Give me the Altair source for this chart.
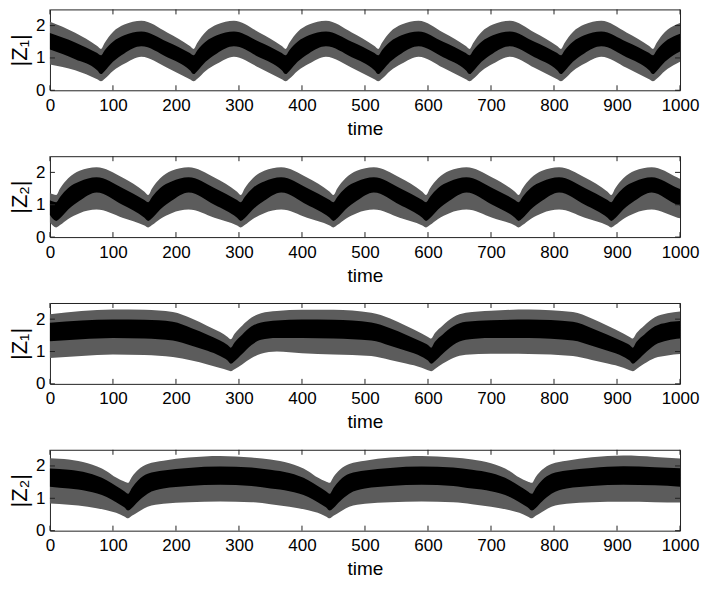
import altair as alt
import pandas as pd

# ---------------- data (envelope of the fast oscillation) ----------------
X_TICKS = [0, 100, 200, 300, 400, 500, 600, 700, 800, 900, 1000]
Y_TICKS = [0, 1, 2]
TITLES = ["|Z₁|", "|Z₂|", "|Z₁|", "|Z₂|"]

# panel 1 : |Z1|
p1_t = [0, 40, 75, 81, 87, 100, 118, 145, 186, 222, 228, 234, 247, 265, 292, 332, 368, 374, 380, 393, 411, 438,
        479, 515, 521, 527, 540, 558, 585, 624, 660, 666, 672, 685, 703, 730, 769, 805, 811, 817, 830, 848, 875,
        915, 951, 957, 963, 976, 994, 1000]
p1_up = [2.12, 1.78, 1.37, 1.28, 1.47, 1.80, 2.03, 2.15, 1.79, 1.37, 1.28, 1.47, 1.80, 2.03, 2.15, 1.79, 1.37, 1.28,
         1.47, 1.80, 2.03, 2.15, 1.79, 1.37, 1.28, 1.47, 1.80, 2.03, 2.15, 1.79, 1.37, 1.28, 1.47, 1.80, 2.03, 2.15,
         1.79, 1.37, 1.28, 1.47, 1.80, 2.03, 2.15, 1.79, 1.37, 1.28, 1.47, 1.80, 2.03, 2.08]
p1_lo = [0.80, 0.62, 0.34, 0.28, 0.36, 0.60, 0.82, 1.04, 0.70, 0.34, 0.28, 0.36, 0.60, 0.82, 1.04, 0.70, 0.34, 0.28,
         0.36, 0.60, 0.82, 1.04, 0.70, 0.34, 0.28, 0.36, 0.60, 0.82, 1.04, 0.70, 0.34, 0.28, 0.36, 0.60, 0.82, 1.04,
         0.70, 0.34, 0.28, 0.36, 0.60, 0.82, 1.04, 0.70, 0.34, 0.28, 0.36, 0.60, 0.82, 0.88]
p1_ch = [1.77, 1.48, 1.15, 1.08, 1.24, 1.50, 1.70, 1.82, 1.50, 1.15, 1.08, 1.24, 1.50, 1.70, 1.82, 1.50, 1.15, 1.08,
         1.24, 1.50, 1.70, 1.82, 1.50, 1.15, 1.08, 1.24, 1.50, 1.70, 1.82, 1.50, 1.15, 1.08, 1.24, 1.50, 1.70, 1.82,
         1.50, 1.15, 1.08, 1.24, 1.50, 1.70, 1.82, 1.50, 1.15, 1.08, 1.24, 1.50, 1.70, 1.75]
p1_cl = [1.26, 0.96, 0.62, 0.50, 0.60, 0.88, 1.14, 1.36, 1.02, 0.62, 0.50, 0.60, 0.88, 1.14, 1.36, 1.02, 0.62, 0.50,
         0.60, 0.88, 1.14, 1.36, 1.02, 0.62, 0.50, 0.60, 0.88, 1.14, 1.36, 1.02, 0.62, 0.50, 0.60, 0.88, 1.14, 1.36,
         1.02, 0.62, 0.50, 0.60, 0.88, 1.14, 1.36, 1.02, 0.62, 0.50, 0.60, 0.88, 1.14, 1.20]

# panel 2 : |Z2|
p2_t = [0, 10, 16, 29, 47, 74, 115, 150, 156, 162, 175, 193, 220, 261, 297, 303, 309, 322, 340, 367, 408, 444, 450,
        456, 469, 487, 514, 555, 591, 597, 603, 616, 634, 661, 702, 738, 744, 750, 763, 781, 808, 849, 885, 891, 897,
        910, 928, 955, 996, 1000]
p2_up = [1.36, 1.30, 1.50, 1.82, 2.05, 2.16, 1.84, 1.40, 1.30, 1.50, 1.82, 2.05, 2.16, 1.84, 1.40, 1.30, 1.50, 1.82,
         2.05, 2.16, 1.84, 1.40, 1.30, 1.50, 1.82, 2.05, 2.16, 1.84, 1.40, 1.30, 1.50, 1.82, 2.05, 2.16, 1.84, 1.40,
         1.30, 1.50, 1.82, 2.05, 2.16, 1.84, 1.40, 1.30, 1.50, 1.82, 2.05, 2.16, 1.84, 1.80]
p2_lo = [0.45, 0.30, 0.37, 0.56, 0.74, 0.85, 0.60, 0.36, 0.30, 0.37, 0.56, 0.74, 0.85, 0.60, 0.36, 0.30, 0.37, 0.56,
         0.74, 0.85, 0.60, 0.36, 0.30, 0.37, 0.56, 0.74, 0.85, 0.60, 0.36, 0.30, 0.37, 0.56, 0.74, 0.85, 0.60, 0.36,
         0.30, 0.37, 0.56, 0.74, 0.85, 0.60, 0.36, 0.30, 0.37, 0.56, 0.74, 0.85, 0.60, 0.58]
p2_ch = [1.14, 1.08, 1.24, 1.52, 1.72, 1.85, 1.52, 1.15, 1.08, 1.24, 1.52, 1.72, 1.85, 1.52, 1.15, 1.08, 1.24, 1.52,
         1.72, 1.85, 1.52, 1.15, 1.08, 1.24, 1.52, 1.72, 1.85, 1.52, 1.15, 1.08, 1.24, 1.52, 1.72, 1.85, 1.52, 1.15,
         1.08, 1.24, 1.52, 1.72, 1.85, 1.52, 1.15, 1.08, 1.24, 1.52, 1.72, 1.85, 1.52, 1.49]
p2_cl = [0.68, 0.50, 0.58, 0.85, 1.12, 1.38, 1.00, 0.60, 0.50, 0.58, 0.85, 1.12, 1.38, 1.00, 0.60, 0.50, 0.58, 0.85,
         1.12, 1.38, 1.00, 0.60, 0.50, 0.58, 0.85, 1.12, 1.38, 1.00, 0.60, 0.50, 0.58, 0.85, 1.12, 1.38, 1.00, 0.60,
         0.50, 0.58, 0.85, 1.12, 1.38, 1.00, 0.60, 0.50, 0.58, 0.85, 1.12, 1.38, 1.00, 0.98]

# panel 3 : |Z1|
p3_t = [0, 50, 100, 150, 195, 225, 250, 270, 282, 287, 293, 305, 320, 335, 360, 400, 450, 510, 540, 565, 590, 600,
        605, 611, 623, 640, 660, 700, 760, 830, 860, 885, 910, 920, 925, 931, 943, 960, 980, 1000]
p3_up = [2.15, 2.25, 2.30, 2.29, 2.22, 2.02, 1.79, 1.60, 1.45, 1.38, 1.55, 1.80, 2.05, 2.18, 2.25, 2.29, 2.29, 2.20,
         2.02, 1.80, 1.56, 1.45, 1.40, 1.57, 1.80, 2.06, 2.20, 2.26, 2.30, 2.22, 2.02, 1.80, 1.56, 1.45, 1.40, 1.57,
         1.80, 2.06, 2.18, 2.24]
p3_lo = [0.80, 0.86, 0.91, 0.89, 0.83, 0.72, 0.60, 0.49, 0.42, 0.39, 0.45, 0.60, 0.80, 0.93, 1.00, 0.95, 0.91, 0.86,
         0.74, 0.63, 0.50, 0.42, 0.39, 0.46, 0.62, 0.80, 0.90, 0.93, 0.92, 0.86, 0.74, 0.63, 0.50, 0.42, 0.39, 0.46,
         0.62, 0.80, 0.88, 0.92]
p3_ch = [1.89, 1.96, 1.99, 1.98, 1.92, 1.72, 1.52, 1.34, 1.20, 1.12, 1.28, 1.52, 1.78, 1.90, 1.96, 1.99, 1.98, 1.90,
         1.72, 1.52, 1.30, 1.20, 1.12, 1.30, 1.52, 1.78, 1.92, 1.97, 1.99, 1.92, 1.72, 1.52, 1.30, 1.20, 1.12, 1.30,
         1.52, 1.78, 1.90, 1.94]
p3_cl = [1.32, 1.38, 1.42, 1.40, 1.34, 1.18, 1.02, 0.86, 0.72, 0.62, 0.70, 0.92, 1.20, 1.36, 1.42, 1.42, 1.40, 1.34,
         1.18, 1.02, 0.84, 0.72, 0.62, 0.70, 0.92, 1.20, 1.36, 1.42, 1.42, 1.34, 1.18, 1.02, 0.84, 0.72, 0.62, 0.70,
         0.92, 1.20, 1.34, 1.40]

# panel 4 : |Z2|
p4_t = [0, 30, 60, 90, 105, 118, 124, 130, 140, 155, 180, 220, 270, 320, 350, 380, 410, 425, 438, 444, 450, 460, 475,
        500, 540, 590, 640, 670, 700, 730, 745, 758, 765, 771, 781, 796, 820, 860, 910, 960, 1000]
p4_up = [2.24, 2.20, 2.08, 1.84, 1.64, 1.52, 1.48, 1.66, 1.88, 2.06, 2.16, 2.26, 2.31, 2.26, 2.20, 2.08, 1.84, 1.64,
         1.52, 1.48, 1.66, 1.88, 2.06, 2.16, 2.26, 2.31, 2.26, 2.20, 2.08, 1.84, 1.64, 1.52, 1.48, 1.66, 1.88, 2.06,
         2.16, 2.27, 2.32, 2.28, 2.23]
p4_lo = [0.84, 0.80, 0.74, 0.63, 0.55, 0.44, 0.38, 0.46, 0.58, 0.74, 0.83, 0.88, 0.90, 0.88, 0.82, 0.74, 0.63, 0.55,
         0.44, 0.38, 0.46, 0.58, 0.74, 0.83, 0.88, 0.90, 0.88, 0.82, 0.74, 0.63, 0.55, 0.44, 0.38, 0.46, 0.58, 0.74,
         0.83, 0.88, 0.89, 0.88, 0.87]
p4_ch = [1.92, 1.88, 1.78, 1.56, 1.38, 1.22, 1.14, 1.32, 1.56, 1.76, 1.86, 1.94, 1.98, 1.95, 1.88, 1.78, 1.56, 1.38,
         1.22, 1.14, 1.32, 1.56, 1.76, 1.86, 1.94, 1.98, 1.95, 1.88, 1.78, 1.56, 1.38, 1.22, 1.14, 1.32, 1.56, 1.76,
         1.86, 1.94, 1.99, 1.96, 1.93]
p4_cl = [1.36, 1.30, 1.22, 1.04, 0.88, 0.72, 0.62, 0.70, 0.90, 1.14, 1.30, 1.38, 1.42, 1.38, 1.30, 1.22, 1.04, 0.88,
         0.72, 0.62, 0.70, 0.90, 1.14, 1.30, 1.38, 1.42, 1.38, 1.30, 1.22, 1.04, 0.88, 0.72, 0.62, 0.70, 0.90, 1.14,
         1.30, 1.38, 1.42, 1.40, 1.36]

PANELS = [
    (p1_t, p1_up, p1_lo, p1_ch, p1_cl),
    (p2_t, p2_up, p2_lo, p2_ch, p2_cl),
    (p3_t, p3_up, p3_lo, p3_ch, p3_cl),
    (p4_t, p4_up, p4_lo, p4_ch, p4_cl),
]

# ---------------- chart ----------------
W, H = 631, 81
TICK = 5
FONT = "Liberation Sans"

xscale = alt.Scale(domain=[0, 1000], nice=False, zero=False)
yscale = alt.Scale(domain=[0, 2.5], nice=False, zero=True)

xt_df = pd.DataFrame({"v": X_TICKS})
yt_df = pd.DataFrame({"v": Y_TICKS})


def panel(data, title):
    t, up, lo, ch, cl = data
    df = pd.DataFrame({"t": t, "up": up, "lo": lo, "ch": ch, "cl": cl})
    xaxis = alt.Axis(values=X_TICKS, title="time", ticks=False, domain=False, grid=False,
                     labelFontSize=17, titleFontSize=19, labelPadding=7, titlePadding=6,
                     labelFont=FONT, titleFont=FONT, titleFontWeight="normal", labelFlush=False,
                     labelColor="black", titleColor="black", format="d")
    yaxis = alt.Axis(values=Y_TICKS, title=title, ticks=False, domain=False, grid=False,
                     labelFontSize=17, titleFontSize=22, labelPadding=5, titlePadding=4,
                     labelFont=FONT, titleFont=FONT, titleFontWeight="normal", labelFlush=False,
                     labelColor="black", titleColor="black", format="d")

    def X(f):
        return alt.X(f, scale=xscale, axis=xaxis, title="time")

    def Y(f):
        return alt.Y(f, scale=yscale, axis=yaxis, title=title)

    outer = alt.Chart(df).mark_area(color="#5c5c5c", opacity=1, interpolate="monotone").encode(
        x=X("t:Q"), y=Y("up:Q"), y2="lo:Q")
    core = alt.Chart(df).mark_area(color="black", opacity=1, interpolate="monotone").encode(
        x=X("t:Q"), y=Y("ch:Q"), y2="cl:Q")
    xb = alt.Chart(xt_df).mark_rule(color="#222", strokeWidth=1).encode(
        x=X("v:Q"), y=alt.value(H - TICK), y2=alt.value(H))
    xtp = alt.Chart(xt_df).mark_rule(color="#222", strokeWidth=1).encode(
        x=X("v:Q"), y=alt.value(0), y2=alt.value(TICK))
    yl = alt.Chart(yt_df).mark_rule(color="#222", strokeWidth=1).encode(
        y=Y("v:Q"), x=alt.value(0), x2=alt.value(TICK))
    yr = alt.Chart(yt_df).mark_rule(color="#222", strokeWidth=1).encode(
        y=Y("v:Q"), x=alt.value(W - TICK), x2=alt.value(W))
    return alt.layer(outer, core, xb, xtp, yl, yr).properties(width=W, height=H)


chart = alt.vconcat(*[panel(d, ttl) for d, ttl in zip(PANELS, TITLES)], spacing=16).properties(
    padding={"left": 0, "top": 0, "right": 0, "bottom": 0}
).configure_view(stroke="#222", strokeWidth=1)

chart.save("out.html", embed_options={"renderer": "svg", "actions": False})
